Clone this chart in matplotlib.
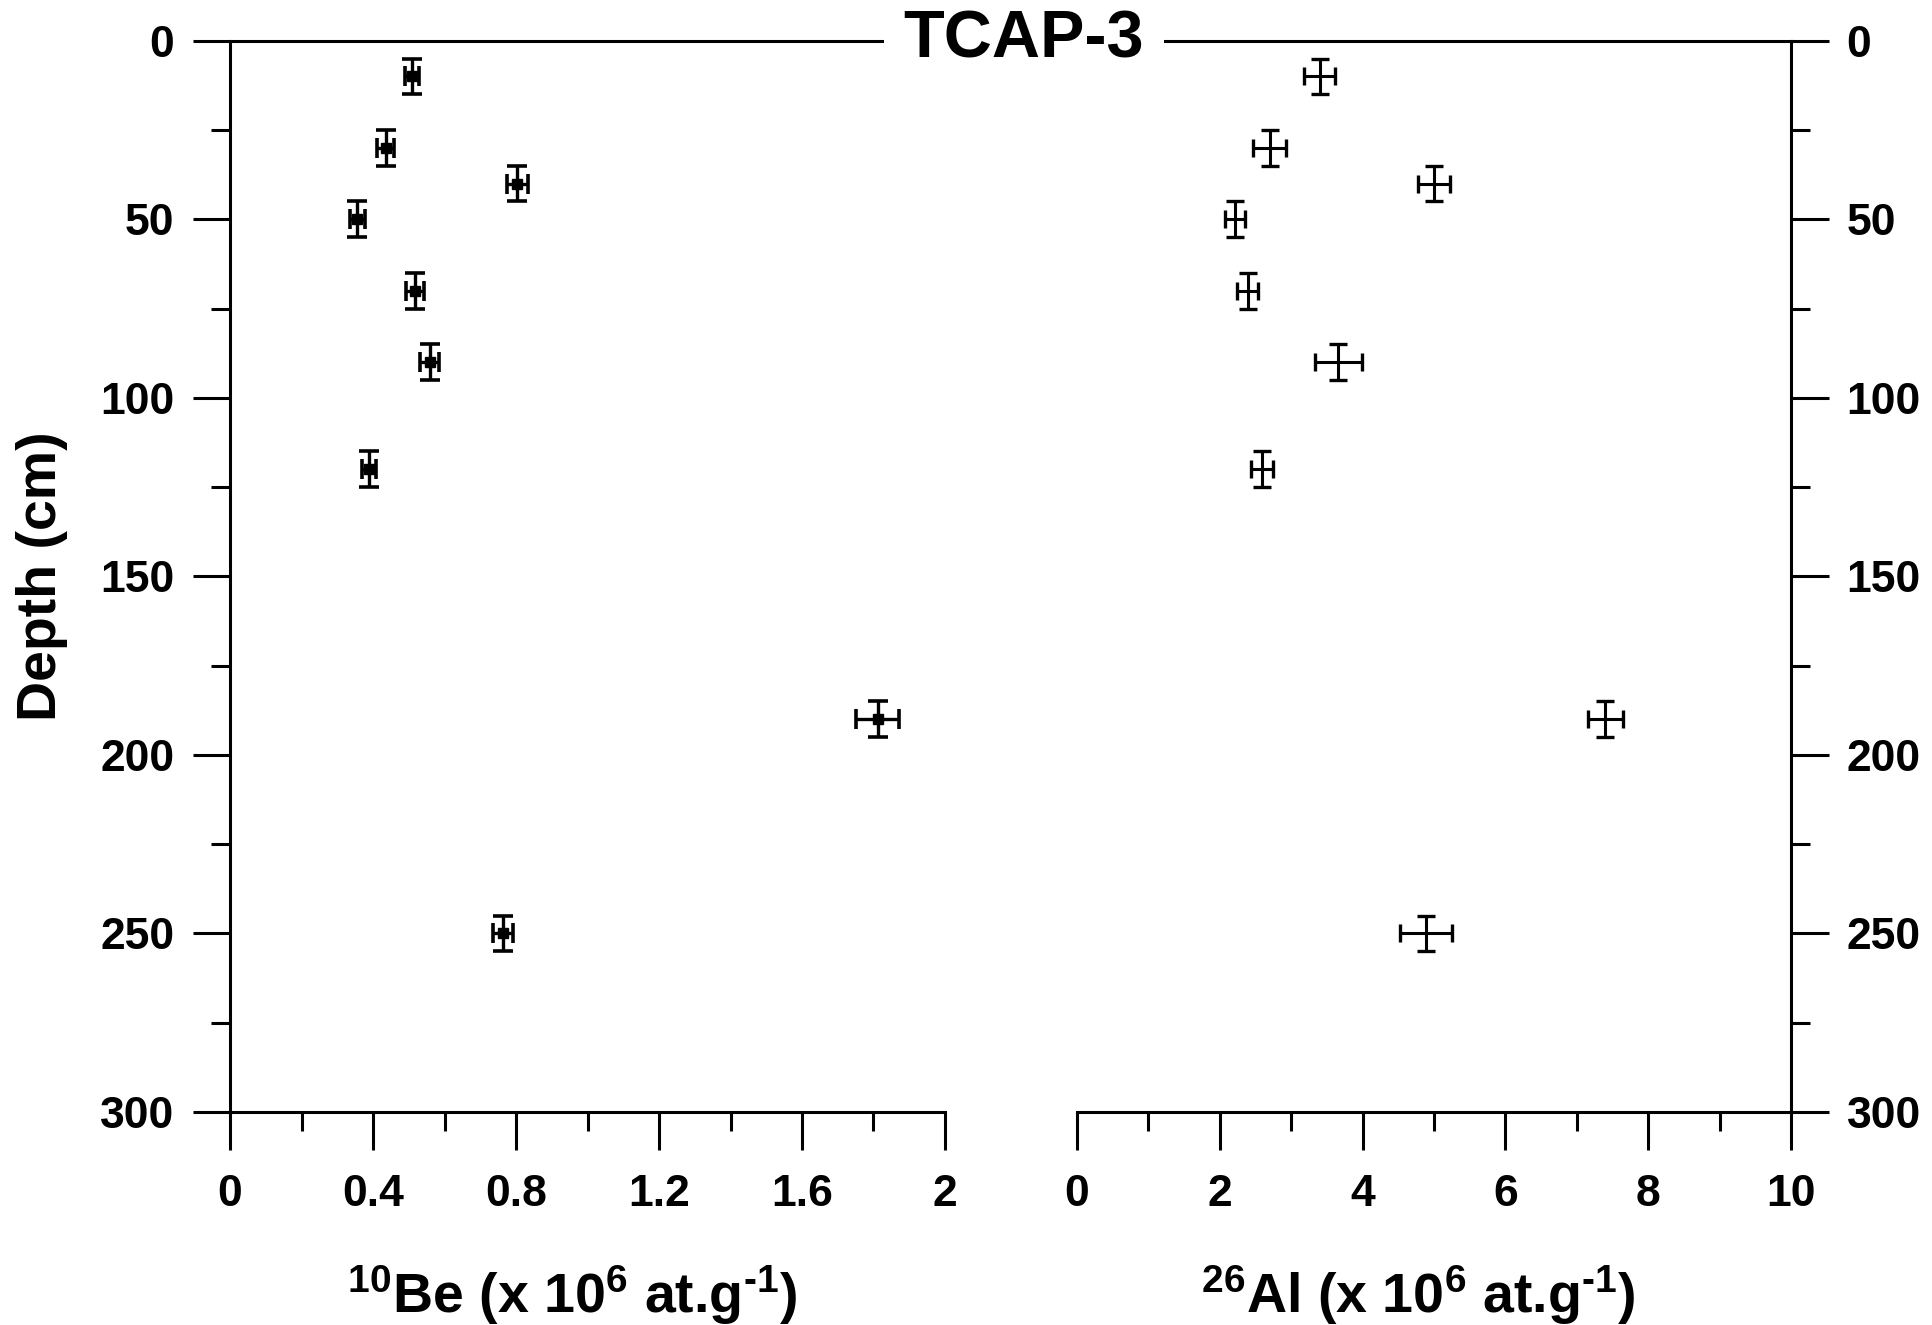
import matplotlib
matplotlib.use("Agg")
import matplotlib.pyplot as plt
from matplotlib.lines import Line2D
from matplotlib.ticker import MultipleLocator, FuncFormatter

# depth profile TCAP-3
depth = [10, 30, 40, 50, 70, 90, 120, 190, 250]
depth_err = [5, 5, 5, 5, 5, 5, 5, 5, 5]

be10 = [0.509, 0.435, 0.804, 0.356, 0.517, 0.559, 0.389, 1.812, 0.764]
be10_err = [0.02, 0.024, 0.03, 0.021, 0.025, 0.027, 0.02, 0.06, 0.028]

al26 = [3.40, 2.70, 5.00, 2.21, 2.39, 3.66, 2.59, 7.40, 4.89]
al26_err = [0.22, 0.23, 0.22, 0.14, 0.15, 0.33, 0.15, 0.25, 0.36]

title = "TCAP-3"
be_label = r"$^{10}$Be (x 10$^{6}$ at.g$^{\text{-}1}$)"
al_label = r"$^{26}$Al (x 10$^{6}$ at.g$^{\text{-}1}$)"

plt.rcParams["font.family"] = ["Liberation Sans", "DejaVu Sans"]
plt.rcParams["font.weight"] = "bold"
plt.rcParams["mathtext.fontset"] = "custom"
plt.rcParams["mathtext.rm"] = "Liberation Sans:bold"
plt.rcParams["mathtext.bf"] = "Liberation Sans:bold"
plt.rcParams["mathtext.default"] = "rm"

W, H = 1933, 1325
fig = plt.figure(figsize=(W / 100, H / 100), dpi=100)
bot = 213 / H
hgt = 1071.3 / H
ax1 = fig.add_axes([230 / W, bot, 715 / W, hgt])
ax2 = fig.add_axes([1077 / W, bot, 714 / W, hgt])

LW = 2.2


def fmt(v, pos):
    return "%g" % v


def style(ax, side):
    ax.set_ylim(300, 0)
    for s in ["top", "right", "left", "bottom"]:
        ax.spines[s].set_visible(False)
    ax.spines["bottom"].set_visible(True)
    ax.spines[side].set_visible(True)
    for s in ax.spines.values():
        s.set_linewidth(LW)
    ax.yaxis.set_major_locator(MultipleLocator(50))
    ax.yaxis.set_minor_locator(MultipleLocator(25))
    ax.tick_params(axis="both", which="major", direction="out", length=27,
                   width=LW, labelsize=32)
    ax.tick_params(axis="both", which="minor", direction="out", length=14,
                   width=LW)
    ax.tick_params(axis="x", which="major", pad=18)
    ax.tick_params(axis="y", which="major", pad=13)
    ax.xaxis.set_major_formatter(FuncFormatter(fmt))
    if side == "right":
        ax.yaxis.tick_right()
    else:
        ax.yaxis.tick_left()
    ax.xaxis.tick_bottom()
    for lab in ax.get_xticklabels() + ax.get_yticklabels():
        lab.set_fontweight("bold")


style(ax1, "left")
ax1.set_xlim(0, 2)
ax1.xaxis.set_major_locator(MultipleLocator(0.4))
ax1.xaxis.set_minor_locator(MultipleLocator(0.2))
ax1.errorbar(be10, depth, xerr=be10_err, yerr=depth_err, fmt="s", color="black",
             markersize=6.5, elinewidth=2.4, capsize=7.5, capthick=2.6)
ax1.set_ylabel("Depth (cm)", fontsize=40, fontweight="bold")
ax1.yaxis.set_label_coords(-0.227, 0.5)
ax1.set_xlabel(be_label, fontsize=40, fontweight="bold")
ax1.xaxis.set_label_coords(0.478, -0.141)
ax1.xaxis.label.set_va("top")

style(ax2, "right")
ax2.set_xlim(0, 10)
ax2.xaxis.set_major_locator(MultipleLocator(2))
ax2.xaxis.set_minor_locator(MultipleLocator(1))
ax2.errorbar(al26, depth, xerr=al26_err, yerr=depth_err, fmt="none", ecolor="black",
             elinewidth=2.2, capsize=6.5, capthick=2.4)
ax2.set_xlabel(al_label, fontsize=40, fontweight="bold")
ax2.xaxis.set_label_coords(0.478, -0.141)
ax2.xaxis.label.set_va("top")

# continuous top line with the title sitting on it
ytop = bot + hgt
fig.add_artist(Line2D([230 / W, 1791 / W], [ytop, ytop], transform=fig.transFigure,
                      color="black", linewidth=LW))
fig.text(1024 / W, ytop, title, fontsize=48, fontweight="bold", ha="center",
         va="center", bbox=dict(boxstyle="square,pad=0.3", facecolor="white",
                                edgecolor="none"))

fig.savefig("out.png", dpi=100)
